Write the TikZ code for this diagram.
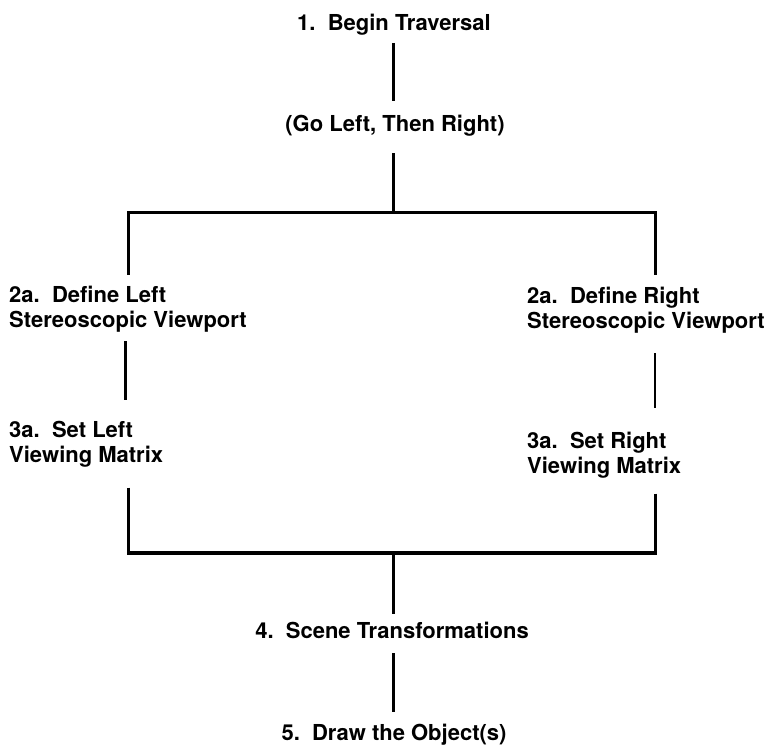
\documentclass[tikz,border=0pt]{standalone}
\usepackage{fontspec}
\setmainfont{TeX Gyre Heros}
\begin{document}
\begin{tikzpicture}[x=1pt,y=-1pt,
  lbl/.style={inner sep=0pt,font=\fontsize{22}{25}\selectfont\bfseries,align=left},
  conn/.style={line width=2.6pt},
  bar/.style={line width=3.6pt}]
\useasboundingbox (0,0) rectangle (770,745);
% nodes
\node[lbl,anchor=base] (n1) at (394,30) {1.\ \ Begin Traversal};
\node[lbl,anchor=base] (n2) at (395,131) {(Go Left, Then Right)};
\node[lbl,anchor=north west] (L2) at (9,286) {2a.\ \ Define Left\\Stereoscopic Viewport};
\node[lbl,anchor=north west] (R2) at (527,287) {2a.\ \ Define Right\\Stereoscopic Viewport};
\node[lbl,anchor=north west] (L3) at (9,421) {3a.\ \ Set Left\\Viewing Matrix};
\node[lbl,anchor=north west] (R3) at (527,432) {3a.\ \ Set Right\\Viewing Matrix};
\node[lbl,anchor=base] (n4) at (392,638) {4.\ \ Scene Transformations};
\node[lbl,anchor=base] (n5) at (394,740) {5.\ \ Draw the Object(s)};
% junction coordinates
\coordinate (TM) at (393.5,212.5);
\coordinate (TL) at (128.5,212.5);
\coordinate (TR) at (655.5,212.5);
\coordinate (BM) at (393.5,553);
\coordinate (BL) at (128.5,553);
\coordinate (BR) at (655.5,553);
\coordinate (LX) at (125.5,0);
\coordinate (RX) at (655,0);
% connectors
\draw[conn,shorten <=8pt,shorten >=13pt] (n1.south -| TM) -- (n2.north -| TM);
\draw[conn,shorten <=17pt] (n2.south -| TM) -- (TM);
\draw[bar] ([xshift=-1.5pt]TL) -- ([xshift=1.5pt]TR);
\draw[conn,shorten >=11pt] (TL) -- (L2.north -| TL);
\draw[conn,shorten >=12pt] (TR) -- (R2.north -| TR);
\draw[conn,shorten <=8.5pt,shorten >=21pt] (L2.south -| LX) -- (L3.north -| LX);
\draw[conn,shorten <=19.5pt,shorten >=24pt] (R2.south -| RX) -- (R3.north -| RX);
\draw[conn,shorten <=20pt] (L3.south -| BL) -- (BL);
\draw[conn,shorten <=15pt] (R3.south -| BR) -- (BR);
\draw[bar] ([xshift=-1.5pt]BL) -- ([xshift=1.5pt]BR);
\draw[conn,shorten >=7pt] (BM) -- (n4.north -| BM);
\draw[conn,shorten <=15pt,shorten >=11pt] (n4.south -| BM) -- (n5.north -| BM);
\end{tikzpicture}
\end{document}
